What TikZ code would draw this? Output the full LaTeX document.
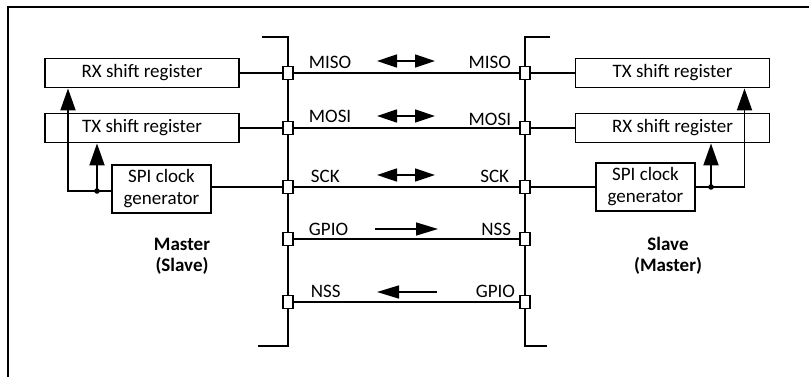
\documentclass[tikz,border=0pt]{standalone}
\usepackage{fontspec}
\setmainfont{Carlito}
\usetikzlibrary{arrows.meta}

\begin{document}
\begin{tikzpicture}[x=1pt, y=-1pt, line width=1.9pt,
    font=\fontsize{19}{22}\selectfont,
    reg/.style={draw, minimum width=194pt, minimum height=29pt, inner sep=0pt},
    clk/.style={draw, minimum width=99pt, minimum height=48pt, inner sep=0pt, align=center, font=\fontsize{19}{22}\selectfont},
    pin/.style={draw, fill=white, minimum width=10pt, minimum height=13pt, inner sep=0pt, line width=1.7pt},
    sig/.style={inner sep=0pt},
    role/.style={font=\fontsize{19}{21}\selectfont\bfseries, align=center},
    bigtip/.style={-{Triangle[length=22pt, width=15pt]}},
    onetip/.style={line width=1.5pt, -{Triangle[length=22pt, width=13pt]}},
    dbltip/.style={line width=1.5pt, {Triangle[length=20pt, width=13pt]}-{Triangle[length=20pt, width=13pt]}}]
    \useasboundingbox (0,0) rectangle (809,376);

    % Outer frame
    \draw (8,380) -- (8,7) -- (815,7);

    % Bus lines
    \draw (262,37) -- (288,37) -- (288,346) -- (258,346);
    \draw (550,37) -- (525,37) -- (525,346) -- (547,346);

    % Pins on the left bus
    \node[pin] (lmiso) at (288,73) {};
    \node[pin] (lmosi) at (288,128) {};
    \node[pin] (lsck) at (288,187) {};
    \node[pin] (lgpio) at (288,239) {};
    \node[pin] (lnss) at (288,302) {};

    % Pins on the right bus
    \node[pin] (rmiso) at (525,73) {};
    \node[pin] (rmosi) at (525,128) {};
    \node[pin] (rsck) at (525,187) {};
    \node[pin] (rnss) at (525,239) {};
    \node[pin] (rgpio) at (525,302) {};

    % Wires between the two sides
    \draw (lmiso) -- (rmiso);
    \draw (lmosi) -- (rmosi);
    \draw (lsck) -- (rsck);
    \draw (lgpio) -- (rnss);
    \draw (lnss) -- (rgpio);

    % Left side registers
    \node[reg] (lrx) at (142,73) {RX shift register};
    \node[reg] (ltx) at (142,128) {TX shift register};
    \node[clk] (lclk) at (161.5,189) {SPI clock\\generator};
    \draw (lrx) -- (lmiso);
    \draw (ltx) -- (lmosi);
    \draw (lclk.east |- lsck) -- (lsck);

    % Right side registers
    \node[reg] (rtx) at (672.5,73) {TX shift register};
    \node[reg] (rrx) at (672.5,128) {RX shift register};
    \node[clk] (rclk) at (645.5,187) {SPI clock\\generator};
    \draw (rtx) -- (rmiso);
    \draw (rrx) -- (rmosi);
    \draw (rclk) -- (rsck);

    % Clock to registers (left)
    \coordinate (lbr) at (97,191);
    \draw[bigtip] (lclk.west |- lbr) -| ([xshift=-74pt]lrx.south);
    \draw[bigtip] (lbr) -- (lbr |- ltx.south);
    \fill (lbr) circle (2.8pt);

    % Clock to registers (right)
    \coordinate (rbr) at (711,187);
    \draw[bigtip] (rclk.east) -| ([xshift=72pt]rtx.south);
    \draw[bigtip] (rbr) -- (rbr |- rrx.south);
    \fill (rbr) circle (2.8pt);

    % Signal names
    \node[sig, anchor=base west] (lmisotxt) at (308,68) {MISO};
    \node[sig, anchor=base west] (lmositxt) at (308,122) {MOSI};
    \node[sig, anchor=base west] (lscktxt) at (310,182) {SCK};
    \node[sig, anchor=base west] (lgpiotxt) at (308,235) {GPIO};
    \node[sig, anchor=base west] (lnsstxt) at (310,297) {NSS};
    \node[sig, anchor=base east] (rmisotxt) at (512,68) {MISO};
    \node[sig, anchor=base east] (rmositxt) at (512,125) {MOSI};
    \node[sig, anchor=base east] (rscktxt) at (510,182) {SCK};
    \node[sig, anchor=base east] (rnsstxt) at (512,235) {NSS};
    \node[sig, anchor=base east] (rgpiotxt) at (516,297) {GPIO};

    % Direction arrows
    \coordinate (misoA) at (377,61);
    \coordinate (misoB) at (435,61);
    \coordinate (mosiA) at (377,116);
    \coordinate (mosiB) at (435,116);
    \coordinate (sckA) at (377,175);
    \coordinate (sckB) at (435,175);
    \coordinate (gpioA) at (375,229);
    \coordinate (gpioB) at (438,229);
    \coordinate (nssA) at (437,292);
    \coordinate (nssB) at (377,292);
    \draw[dbltip] (misoA) -- (misoB);
    \draw[dbltip] (mosiA) -- (mosiB);
    \draw[dbltip] (sckA) -- (sckB);
    \draw[onetip] (gpioA) -- (gpioB);
    \draw[onetip] (nssA) -- (nssB);

    % Roles
    \node[role] (master) at (182,256) {Master\\(Slave)};
    \node[role] (slave) at (668,256) {Slave\\(Master)};
\end{tikzpicture}
\end{document}
